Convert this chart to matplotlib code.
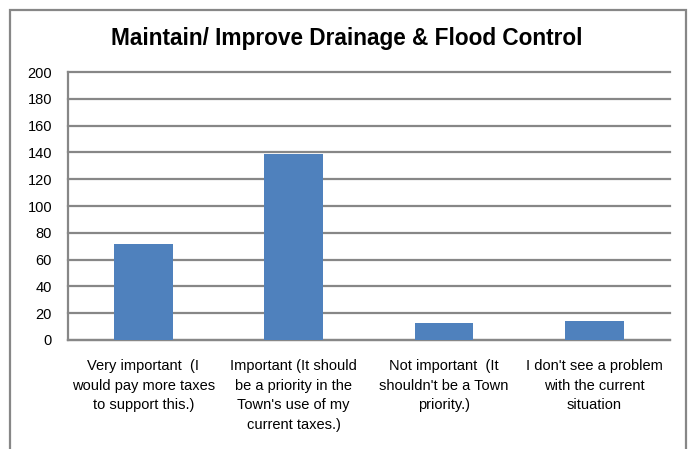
import matplotlib.pyplot as plt
from matplotlib.patches import Rectangle
import numpy as np

plt.rcParams['font.family'] = ['Liberation Sans', 'DejaVu Sans']

# Survey data
categories = [
    "Very important  (I\nwould pay more taxes\nto support this.)",
    "Important (It should\nbe a priority in the\nTown's use of my\ncurrent taxes.)",
    "Not important  (It\nshouldn't be a Town\npriority.)",
    "I don't see a problem\nwith the current\nsituation",
]
counts = [72, 139, 13, 14]
yticks = [0, 20, 40, 60, 80, 100, 120, 140, 160, 180, 200]
title = "Maintain/ Improve Drainage & Flood Control"

grid_col = '#878787'
bar_col = '#4F81BD'

fig = plt.figure(figsize=(6.94, 4.49), dpi=100)
ax = fig.add_axes([0.098, 0.2428, 0.867, 0.5968])

x = np.arange(len(categories))
ax.bar(x, counts, width=0.39, color=bar_col, zorder=3)

ax.set_xlim(-0.5, len(categories) - 0.5)
ax.set_ylim(0, 200)
ax.set_yticks(yticks)
ax.yaxis.grid(True, color=grid_col, linewidth=1.6, zorder=0)
for gl in ax.get_ygridlines():
    gl.set_clip_on(False)
ax.set_axisbelow(True)
for s in ['top', 'right']:
    ax.spines[s].set_visible(False)
for s in ['left', 'bottom']:
    ax.spines[s].set_color(grid_col)
    ax.spines[s].set_linewidth(1.6)
ax.tick_params(axis='both', length=0, labelsize=10.5)
ax.tick_params(axis='y', pad=11.5)
ax.tick_params(axis='x', pad=14)
ax.set_xticks(x)
ax.set_xticklabels(categories, linespacing=1.5)

fig.text(0.5, 0.915, title, ha='center', va='center',
         fontsize=16.3, fontweight='bold')

# outer chart border (bottom edge falls outside the image)
fig.add_artist(Rectangle((10 / 694, -0.2), 676 / 694, 1.2 - 10 / 449,
                         transform=fig.transFigure, fill=False,
                         edgecolor=grid_col, linewidth=1.6))

fig.savefig('out.png', dpi=100)
